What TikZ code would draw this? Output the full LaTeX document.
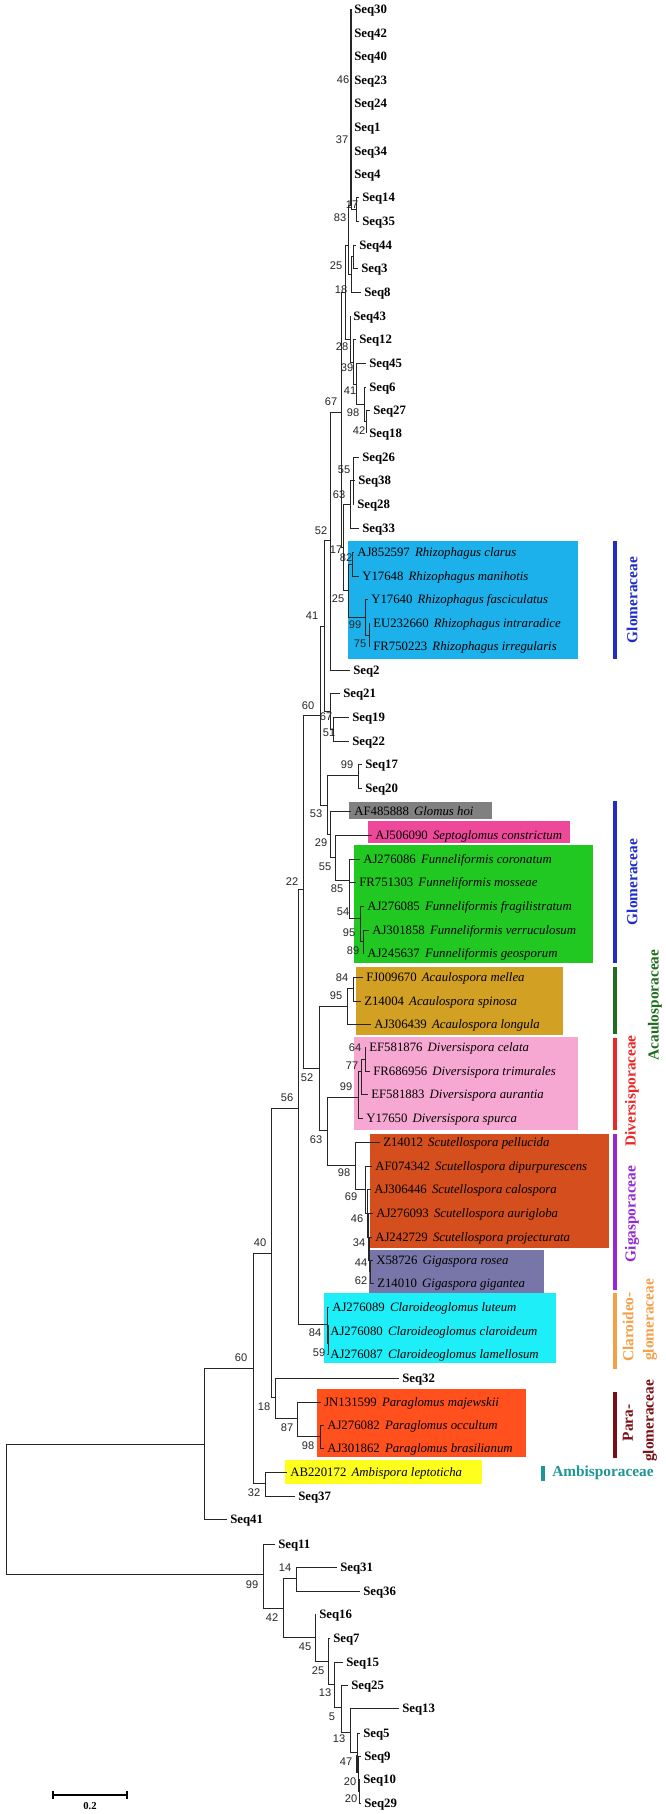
\documentclass[tikz,border=0pt]{standalone}
\usepackage{fontspec}
\setmainfont{Liberation Serif}
\newfontfamily\sansf{Liberation Sans}
\definecolor{rhizo}{RGB}{29,177,236}
\definecolor{hoi}{RGB}{128,128,128}
\definecolor{septo}{RGB}{238,72,155}
\definecolor{funnel}{RGB}{34,200,34}
\definecolor{acaulo}{RGB}{210,160,35}
\definecolor{diversi}{RGB}{247,168,210}
\definecolor{scutello}{RGB}{212,78,30}
\definecolor{giga}{RGB}{120,118,168}
\definecolor{claro}{RGB}{30,238,248}
\definecolor{paraglo}{RGB}{255,80,30}
\definecolor{ambi}{RGB}{255,255,30}
\definecolor{fglom}{RGB}{30,45,200}
\definecolor{facau}{RGB}{30,110,30}
\definecolor{fdiv}{RGB}{235,40,40}
\definecolor{fgiga}{RGB}{150,40,210}
\definecolor{fclaro}{RGB}{245,160,70}
\definecolor{fpara}{RGB}{120,15,20}
\definecolor{fambi}{RGB}{30,150,150}
\tikzset{
  br/.style={line width=0.7pt, black!85},
  seq/.style={anchor=west, inner xsep=2.25pt, inner ysep=0pt, text height=6.4pt, text depth=0pt, font={\fontsize{9.6}{10}\selectfont\bfseries}},
  spc/.style={anchor=west, inner xsep=2.25pt, inner ysep=0pt, text height=6.4pt, text depth=0pt, font={\fontsize{9.6}{10}\selectfont}},
  bs/.style={inner sep=0pt, text=black!85, font={\sansf\fontsize{8.3}{9}\selectfont}},
  fam/.style={inner sep=0pt, font={\fontsize{11.5}{12}\selectfont\bfseries}},
  fbar/.style={line width=2.3pt},
}
\newcommand\tleaf[4]{\node[seq] (#1) at (#2,#3) {#4};}
\newcommand\tspec[5]{\node[spc] (#1) at (#2,#3) {#4\hspace{0.4em}\textit{#5}};}
\newcommand\bsv[4]{\node[bs] (#1) at (#2,#3) {#4};}
\newcommand\chn[2]{\draw[br] (#1) |- (#2);}
\newcommand\chl[2]{\draw[br] (#1) |- (#2.west);}
\begin{document}
\begin{tikzpicture}[x=0.75pt,y=-0.75pt]
\path[use as bounding box, fill=white] (0,0) rectangle (666,1814);
% colour boxes
\fill[rhizo] (348,541) rectangle (578,659);
\fill[hoi] (349,802) rectangle (492,819);
\fill[septo] (368,821) rectangle (570,843);
\fill[funnel] (354,845) rectangle (593,963);
\fill[acaulo] (356,967) rectangle (563,1035);
\fill[diversi] (354,1037) rectangle (578,1130);
\fill[scutello] (370,1134) rectangle (609,1248);
\fill[giga] (369,1250) rectangle (544,1293);
\fill[claro] (324,1293) rectangle (556,1363);
\fill[paraglo] (317,1389) rectangle (526,1457);
\fill[ambi] (285,1460) rectangle (482,1484);
% internal nodes
\coordinate (P) at (351,205);
\coordinate (N17t) at (356,209);
\coordinate (N83) at (348,245);
\coordinate (N18) at (351,274);
\coordinate (N25) at (353,256);
\coordinate (Nb) at (345,292);
\coordinate (N28) at (350,339);
\coordinate (N39) at (353,362);
\coordinate (N41) at (356,384);
\coordinate (N98) at (364,404);
\coordinate (N42) at (366,421);
\coordinate (N67) at (341,412);
\coordinate (N17) at (343,547);
\coordinate (N63) at (350,504);
\coordinate (N55) at (353,480);
\coordinate (N25r) at (348,590);
\coordinate (N82) at (352,564);
\coordinate (N99r) at (365,617);
\coordinate (N75) at (369,635);
\coordinate (N52) at (330,540);
\coordinate (N41L) at (324,626);
\coordinate (N67b) at (330,711);
\coordinate (N51) at (333,729);
\coordinate (N60a) at (320,715);
\coordinate (N53) at (327,805);
\coordinate (N99s) at (358,775);
\coordinate (N29) at (330,834);
\coordinate (N55f) at (335,857);
\coordinate (N85) at (349,880);
\coordinate (N54) at (360,918);
\coordinate (N95f) at (363,941);
\coordinate (N22) at (303,889);
\coordinate (N52b) at (319,1068);
\coordinate (N95a) at (347,1006);
\coordinate (N84) at (353,988);
\coordinate (N63g) at (327,1130);
\coordinate (N99d) at (358,1097);
\coordinate (N77) at (361,1071);
\coordinate (N64) at (365,1059);
\coordinate (N98g) at (355,1165);
\coordinate (N69) at (365,1189);
\coordinate (N46) at (367,1213);
\coordinate (N34) at (368,1237);
\coordinate (N44) at (369,1260);
\coordinate (N62) at (370,1271);
\coordinate (N56) at (298,1108);
\coordinate (Nclar) at (327,1324);
\coordinate (N59) at (328,1343);
\coordinate (N40) at (271,1253);
\coordinate (N18p) at (275,1397);
\coordinate (N87) at (297,1418);
\coordinate (N98p) at (320,1436);
\coordinate (N60b) at (253,1368);
\coordinate (N32) at (265,1483);
\coordinate (N60c) at (204,1444);
\coordinate (Root) at (6,1509);
\coordinate (N99b) at (263,1574);
\coordinate (N42b) at (283,1608);
\coordinate (N14) at (296,1578);
\coordinate (N45) at (315,1637);
\coordinate (N25b) at (328,1661);
\coordinate (N13a) at (334,1684);
\coordinate (N5) at (341,1707);
\coordinate (N13b) at (350,1732);
\coordinate (N47) at (357,1752);
\coordinate (N20a) at (358,1768);
\coordinate (N20b) at (359,1791);
% leaves
\tleaf{s30}{351}{9}{Seq30}
\tleaf{s42}{351}{33}{Seq42}
\tleaf{s40}{351}{56}{Seq40}
\tleaf{s23}{351}{80}{Seq23}
\tleaf{s24}{351}{103}{Seq24}
\tleaf{s1}{351}{127}{Seq1}
\tleaf{s34}{351}{151}{Seq34}
\tleaf{s4}{351}{174}{Seq4}
\tleaf{s14}{359}{197}{Seq14}
\tleaf{s35}{359}{221}{Seq35}
\tleaf{s44}{356}{245}{Seq44}
\tleaf{s3}{358}{268}{Seq3}
\tleaf{s8}{361}{292}{Seq8}
\tleaf{s43}{350}{316}{Seq43}
\tleaf{s12}{356}{339}{Seq12}
\tleaf{s45}{366}{363}{Seq45}
\tleaf{s6}{366}{387}{Seq6}
\tleaf{s27}{370}{410}{Seq27}
\tleaf{s18}{366}{433}{Seq18}
\tleaf{s26}{359}{457}{Seq26}
\tleaf{s38}{355}{480}{Seq38}
\tleaf{s28}{354}{504}{Seq28}
\tleaf{s33}{359}{528}{Seq33}
\tspec{r1}{354}{552}{AJ852597}{Rhizophagus clarus}
\tspec{r2}{359}{576}{Y17648}{Rhizophagus manihotis}
\tspec{r3}{368}{599}{Y17640}{Rhizophagus fasciculatus}
\tspec{r4}{370}{623}{EU232660}{Rhizophagus intraradice}
\tspec{r5}{370}{646}{FR750223}{Rhizophagus irregularis}
\tleaf{s2}{350}{670}{Seq2}
\tleaf{s21}{340}{693}{Seq21}
\tleaf{s19}{349}{717}{Seq19}
\tleaf{s22}{349}{741}{Seq22}
\tleaf{s17}{362}{764}{Seq17}
\tleaf{s20}{362}{788}{Seq20}
\tspec{gh}{351}{811}{AF485888}{Glomus hoi}
\tspec{sc}{372}{835}{AJ506090}{Septoglomus constrictum}
\tspec{f1}{360}{859}{AJ276086}{Funneliformis coronatum}
\tspec{f2}{356}{882}{FR751303}{Funneliformis mosseae}
\tspec{f3}{364}{906}{AJ276085}{Funneliformis fragilistratum}
\tspec{f4}{369}{930}{AJ301858}{Funneliformis verruculosum}
\tspec{f5}{364}{953}{AJ245637}{Funneliformis geosporum}
\tspec{a1}{363}{977}{FJ009670}{Acaulospora mellea}
\tspec{a2}{361}{1001}{Z14004}{Acaulospora spinosa}
\tspec{a3}{371}{1024}{AJ306439}{Acaulospora longula}
\tspec{d1}{366}{1047}{EF581876}{Diversispora celata}
\tspec{d2}{370}{1071}{FR686956}{Diversispora trimurales}
\tspec{d3}{368}{1094}{EF581883}{Diversispora aurantia}
\tspec{d4}{363}{1118}{Y17650}{Diversispora spurca}
\tspec{c1}{380}{1142}{Z14012}{Scutellospora pellucida}
\tspec{c2}{372}{1166}{AF074342}{Scutellospora dipurpurescens}
\tspec{c3}{371}{1189}{AJ306446}{Scutellospora calospora}
\tspec{c4}{373}{1213}{AJ276093}{Scutellospora aurigloba}
\tspec{c5}{372}{1237}{AJ242729}{Scutellospora projecturata}
\tspec{g1}{373}{1260}{X58726}{Gigaspora rosea}
\tspec{g2}{374}{1283}{Z14010}{Gigaspora gigantea}
\tspec{k1}{329}{1307}{AJ276089}{Claroideoglomus luteum}
\tspec{k2}{327}{1331}{AJ276080}{Claroideoglomus claroideum}
\tspec{k3}{327}{1354}{AJ276087}{Claroideoglomus lamellosum}
\tleaf{s32}{399}{1378}{Seq32}
\tspec{p1}{321}{1402}{JN131599}{Paraglomus majewskii}
\tspec{p2}{324}{1425}{AJ276082}{Paraglomus occultum}
\tspec{p3}{324}{1448}{AJ301862}{Paraglomus brasilianum}
\tspec{am}{287}{1472}{AB220172}{Ambispora leptoticha}
\tleaf{s37}{295}{1496}{Seq37}
\tleaf{s41}{227}{1519}{Seq41}
\tleaf{s11}{275}{1544}{Seq11}
\tleaf{s31}{337}{1567}{Seq31}
\tleaf{s36}{360}{1591}{Seq36}
\tleaf{s16}{316}{1614}{Seq16}
\tleaf{s7}{330}{1638}{Seq7}
\tleaf{s15}{343}{1662}{Seq15}
\tleaf{s25}{348}{1685}{Seq25}
\tleaf{s13}{399}{1708}{Seq13}
\tleaf{s5}{360}{1733}{Seq5}
\tleaf{s9}{361}{1756}{Seq9}
\tleaf{s10}{360}{1779}{Seq10}
\tleaf{s29}{361}{1803}{Seq29}
% branches
\foreach \l in {s30,s42,s40,s23,s24,s1,s34,s4} {\chl{P}{\l}}
\chn{P}{N17t}
\chl{N17t}{s14} \chl{N17t}{s35}
\chn{N83}{P} \chn{N83}{N18}
\chn{N18}{N25} \chl{N18}{s8}
\chl{N25}{s44} \chl{N25}{s3}
\chn{Nb}{N83} \chn{Nb}{N28}
\chl{N28}{s43} \chn{N28}{N39}
\chl{N39}{s12} \chn{N39}{N41}
\chl{N41}{s45} \chn{N41}{N98}
\chl{N98}{s6} \chn{N98}{N42}
\chl{N42}{s27} \chl{N42}{s18}
\chn{N67}{Nb} \chn{N67}{N17}
\chn{N17}{N63} \chn{N17}{N25r}
\chn{N63}{N55} \chl{N63}{s33}
\chl{N55}{s26} \chl{N55}{s38} \chl{N55}{s28}
\chn{N25r}{N82} \chn{N25r}{N99r}
\chl{N82}{r1} \chl{N82}{r2}
\chl{N99r}{r3} \chn{N99r}{N75}
\chl{N75}{r4} \chl{N75}{r5}
\chn{N52}{N67} \chl{N52}{s2}
\chn{N41L}{N52} \chn{N41L}{N67b}
\chl{N67b}{s21} \chn{N67b}{N51}
\chl{N51}{s19} \chl{N51}{s22}
\chn{N60a}{N41L} \chn{N60a}{N53}
\chn{N53}{N99s} \chn{N53}{N29}
\chl{N99s}{s17} \chl{N99s}{s20}
\chl{N29}{gh} \chn{N29}{N55f}
\chl{N55f}{sc} \chn{N55f}{N85}
\chl{N85}{f1} \chl{N85}{f2} \chn{N85}{N54}
\chl{N54}{f3} \chn{N54}{N95f}
\chl{N95f}{f4} \chl{N95f}{f5}
\chn{N22}{N60a} \chn{N22}{N52b}
\chn{N52b}{N95a} \chn{N52b}{N63g}
\chn{N95a}{N84} \chl{N95a}{a3}
\chl{N84}{a1} \chl{N84}{a2}
\chn{N63g}{N99d} \chn{N63g}{N98g}
\chn{N99d}{N77} \chl{N99d}{d4}
\chn{N77}{N64} \chl{N77}{d3}
\chl{N64}{d1} \chl{N64}{d2}
\chl{N98g}{c1} \chn{N98g}{N69}
\chl{N69}{c2} \chn{N69}{N46}
\chl{N46}{c3} \chn{N46}{N34}
\chl{N34}{c4} \chn{N34}{N44}
\chl{N44}{c5} \chn{N44}{N62}
\chl{N62}{g1} \chl{N62}{g2}
\chn{N56}{N22} \chn{N56}{Nclar}
\chl{Nclar}{k1} \chn{Nclar}{N59}
\chl{N59}{k2} \chl{N59}{k3}
\chn{N40}{N56} \chn{N40}{N18p}
\chl{N18p}{s32} \chn{N18p}{N87}
\chl{N87}{p1} \chn{N87}{N98p}
\chl{N98p}{p2} \chl{N98p}{p3}
\chn{N60b}{N40} \chn{N60b}{N32}
\chl{N32}{am} \chl{N32}{s37}
\chn{N60c}{N60b} \chl{N60c}{s41}
\chn{Root}{N60c} \chn{Root}{N99b}
\chl{N99b}{s11} \chn{N99b}{N42b}
\chn{N42b}{N14} \chn{N42b}{N45}
\chl{N14}{s31} \chl{N14}{s36}
\chl{N45}{s16} \chn{N45}{N25b}
\chl{N25b}{s7} \chn{N25b}{N13a}
\chl{N13a}{s15} \chn{N13a}{N5}
\chl{N5}{s25} \chn{N5}{N13b}
\chl{N13b}{s13} \chn{N13b}{N47}
\chl{N47}{s5} \chn{N47}{N20a}
\chl{N20a}{s9} \chn{N20a}{N20b}
\chl{N20b}{s10} \chl{N20b}{s29}
% thick zero-length stretches
\draw[line width=1.2pt, black!85] (s30.west) -- (s34.west);
\draw[line width=2.2pt, black!85] (s34.west) -- (P);
\draw[line width=1.8pt, black!85] (357,1755) -- (357,1773);
\draw[line width=1.6pt, black!85] (328,1325) -- (328,1340);
% bootstrap values
\bsv{b1}{343}{80}{46}
\bsv{b2}{342}{140}{37}
\bsv{b3}{352}{205}{17}
\bsv{b4}{340}{218}{83}
\bsv{b5}{336}{266}{25}
\bsv{b6}{341}{290}{18}
\bsv{b7}{342}{347}{28}
\bsv{b8}{347}{368}{39}
\bsv{b9}{350}{391}{41}
\bsv{b10}{353}{413}{98}
\bsv{b11}{359}{431}{42}
\bsv{b12}{331}{402}{67}
\bsv{b13}{344}{470}{55}
\bsv{b14}{339}{495}{63}
\bsv{b15}{321}{531}{52}
\bsv{b16}{336}{550}{17}
\bsv{b17}{346}{558}{82}
\bsv{b18}{338}{599}{25}
\bsv{b19}{355}{625}{99}
\bsv{b20}{360}{644}{75}
\bsv{b21}{312}{616}{41}
\bsv{b22}{308}{706}{60}
\bsv{b23}{326}{717}{67}
\bsv{b24}{329}{733}{51}
\bsv{b25}{347}{765}{99}
\bsv{b26}{316}{814}{53}
\bsv{b27}{321}{843}{29}
\bsv{b28}{325}{867}{55}
\bsv{b29}{337}{889}{85}
\bsv{b30}{343}{912}{54}
\bsv{b31}{292}{882}{22}
\bsv{b32}{349}{933}{95}
\bsv{b33}{353}{951}{89}
\bsv{b34}{342}{978}{84}
\bsv{b35}{336}{996}{95}
\bsv{b36}{355}{1048}{64}
\bsv{b37}{352}{1066}{77}
\bsv{b38}{346}{1087}{99}
\bsv{b39}{307}{1078}{52}
\bsv{b40}{287}{1098}{56}
\bsv{b41}{316}{1140}{63}
\bsv{b42}{344}{1173}{98}
\bsv{b43}{351}{1197}{69}
\bsv{b44}{357}{1219}{46}
\bsv{b45}{359}{1243}{34}
\bsv{b46}{361}{1263}{44}
\bsv{b47}{361}{1281}{62}
\bsv{b48}{315}{1333}{84}
\bsv{b49}{319}{1353}{59}
\bsv{b50}{241}{1358}{60}
\bsv{b51}{260}{1243}{40}
\bsv{b52}{264}{1407}{18}
\bsv{b53}{287}{1428}{87}
\bsv{b54}{308}{1446}{98}
\bsv{b55}{254}{1493}{32}
\bsv{b56}{252}{1585}{99}
\bsv{b57}{285}{1568}{14}
\bsv{b58}{272}{1618}{42}
\bsv{b59}{305}{1647}{45}
\bsv{b60}{318}{1671}{25}
\bsv{b61}{325}{1693}{13}
\bsv{b62}{332}{1717}{5}
\bsv{b63}{339}{1739}{13}
\bsv{b64}{346}{1762}{47}
\bsv{b65}{350}{1782}{20}
\bsv{b66}{351}{1799}{20}
% family bars and names
\draw[fbar, fglom] (615,541) -- (615,659);
\node[fam, text=fglom, rotate=90] (fam1) at (632,600) {Glomeraceae};
\draw[fbar, fglom] (615,801) -- (615,963);
\node[fam, text=fglom, rotate=90] (fam2) at (632,882) {Glomeraceae};
\draw[fbar, facau] (615,967) -- (615,1034);
\node[fam, text=facau, rotate=90] (fam3) at (655,1005) {Acaulosporaceae};
\draw[fbar, fdiv] (615,1038) -- (615,1130);
\node[fam, text=fdiv, rotate=90] (fam4) at (632,1091) {Diversisporaceae};
\draw[fbar, fgiga] (615,1134) -- (615,1290);
\node[fam, text=fgiga, rotate=90] (fam5) at (632,1214) {Gigasporaceae};
\draw[fbar, fclaro] (615,1293) -- (615,1369);
\node[fam, text=fclaro, rotate=90] (fam6a) at (628,1327) {Claroideo-};
\node[fam, text=fclaro, rotate=90] (fam6b) at (650,1320) {glomeraceae};
\draw[fbar, fpara] (615,1392) -- (615,1458);
\node[fam, text=fpara, rotate=90] (fam7a) at (628,1423) {Para-};
\node[fam, text=fpara, rotate=90] (fam7b) at (650,1421) {glomeraceae};
\draw[fbar, fambi] (543,1466) -- (543,1481);
\node[fam, text=fambi, anchor=west] (fam8) at (552,1473) {Ambisporaceae};
% scale bar
\draw[line width=0.9pt] (53,1795) -- (127,1795);
\draw[line width=0.9pt] (53,1791) -- (53,1799);
\draw[line width=0.9pt] (127,1791) -- (127,1799);
\node[inner sep=0pt, font={\fontsize{8}{9}\selectfont\bfseries}] (scl) at (90,1806) {0.2};
\end{tikzpicture}
\end{document}
